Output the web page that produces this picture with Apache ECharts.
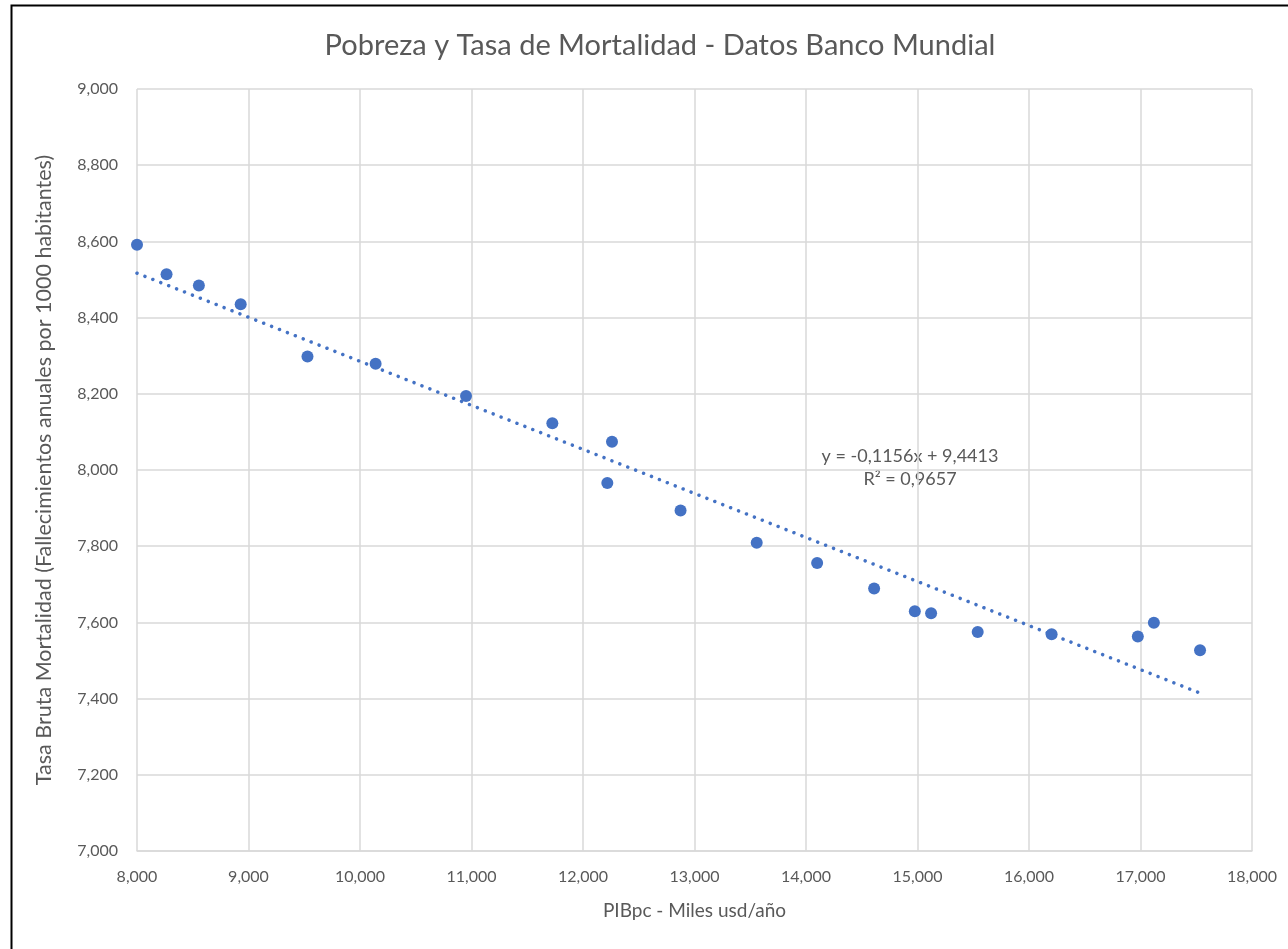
<!DOCTYPE html>
<html lang="es" style="height: 100%">
  <head>
    <meta charset="utf-8" />
  </head>
  <body style="height: 100%; margin: 0; background: #fff">
    <div id="container" style="width: 1288px; height: 949px"></div>

    <script
      type="text/javascript"
      src="https://cdn.jsdelivr.net/npm/echarts@6/dist/echarts.min.js"
    ></script>

    <script type="text/javascript">
      // PIB per capita (x) y tasa bruta de mortalidad x1000 (y)
      var pib = [
        8000, 8265, 8555, 8930, 9529, 10140, 10951, 11725, 12260, 12218,
        12875, 13558, 14100, 14611, 14976, 15122, 15540, 16203, 16976, 17120,
        17534,
      ];
      var mortalidad = [
        8591, 8514, 8484, 8435, 8298, 8279, 8194, 8123, 8074, 7966, 7894,
        7809, 7756, 7689, 7629, 7624, 7575, 7569, 7563, 7599, 7527,
      ];
      // linea de tendencia de Excel: y = -0,1156x + 9,4413 (x en miles)
      var pendiente = -0.1156;
      var intercepto = 9.4413;
      var trendX = [8000, 17534];
      var trendLabel = ["y = -0,1156x + 9,4413", "R² = 0,9657"];

      var font = "Lato, 'Open Sans', sans-serif";
      var grey = "#595959";
      var blue = "#4472c4";

      var puntos = pib.map(function (x, i) {
        return [x, mortalidad[i]];
      });
      var tendencia = trendX.map(function (x) {
        return [x, (intercepto + (pendiente * x) / 1000) * 1000];
      });

      var dom = document.getElementById("container");
      var myChart = echarts.init(dom, null, { renderer: "canvas" });

      var fmt = function (v) {
        return v.toLocaleString("en-US");
      };

      var option = {
        backgroundColor: "#fff",
        animation: false,
        textStyle: { fontFamily: font },
        title: {
          text: "Pobreza y Tasa de Mortalidad - Datos Banco Mundial",
          left: 655,
          textAlign: "center",
          top: 26,
          textStyle: {
            fontFamily: font,
            fontSize: 29,
            fontWeight: "normal",
            color: grey,
          },
        },
        grid: { left: 137, right: 36, top: 89, bottom: 98 },
        xAxis: {
          type: "value",
          min: 8000,
          max: 18000,
          interval: 1000,
          name: "PIBpc - Miles usd/año",
          nameLocation: "middle",
          nameGap: 50,
          nameTextStyle: { fontSize: 19, color: grey, fontFamily: font },
          axisLine: { show: true, lineStyle: { color: "#d9d9d9", width: 1.5 } },
          axisTick: { show: false },
          axisLabel: { fontSize: 16, color: grey, margin: 18, formatter: fmt },
          splitLine: { lineStyle: { color: "#d9d9d9", width: 1.5 } },
        },
        yAxis: {
          type: "value",
          min: 7000,
          max: 9000,
          interval: 200,
          name: "Tasa Bruta Mortalidad (Fallecimientos anuales por 1000 habitantes)",
          nameLocation: "middle",
          nameGap: 82,
          nameTextStyle: { fontSize: 21.5, color: grey, fontFamily: font },
          axisLine: { show: false },
          axisTick: { show: false },
          axisLabel: { fontSize: 16, color: grey, margin: 19, formatter: fmt },
          splitLine: { lineStyle: { color: "#d9d9d9", width: 1.5 } },
        },
        series: [
          {
            type: "line",
            data: tendencia,
            symbol: "none",
            silent: true,
            lineStyle: {
              color: blue,
              width: 3.5,
              type: [0.01, 8.5],
              cap: "round",
            },
            z: 2,
          },
          {
            type: "scatter",
            data: puntos,
            symbolSize: 12,
            itemStyle: { color: blue, opacity: 1 },
            z: 3,
          },
        ],
        graphic: [
          {
            type: "rect",
            left: 9,
            top: 3,
            shape: { x: 0, y: 0, width: 2000, height: 2000 },
            style: { fill: "none", stroke: "#000", lineWidth: 2 },
            silent: true,
          },
          {
            type: "text",
            x: 910,
            y: 456,
            style: {
              text: trendLabel[0],
              fill: grey,
              font: "18px " + font,
              align: "center",
              verticalAlign: "middle",
            },
          },
          {
            type: "text",
            x: 910,
            y: 479,
            style: {
              text: trendLabel[1],
              fill: grey,
              font: "18px " + font,
              align: "center",
              verticalAlign: "middle",
            },
          },
        ],
      };

      myChart.setOption(option);
      window.addEventListener("resize", myChart.resize);
    </script>
  </body>
</html>
